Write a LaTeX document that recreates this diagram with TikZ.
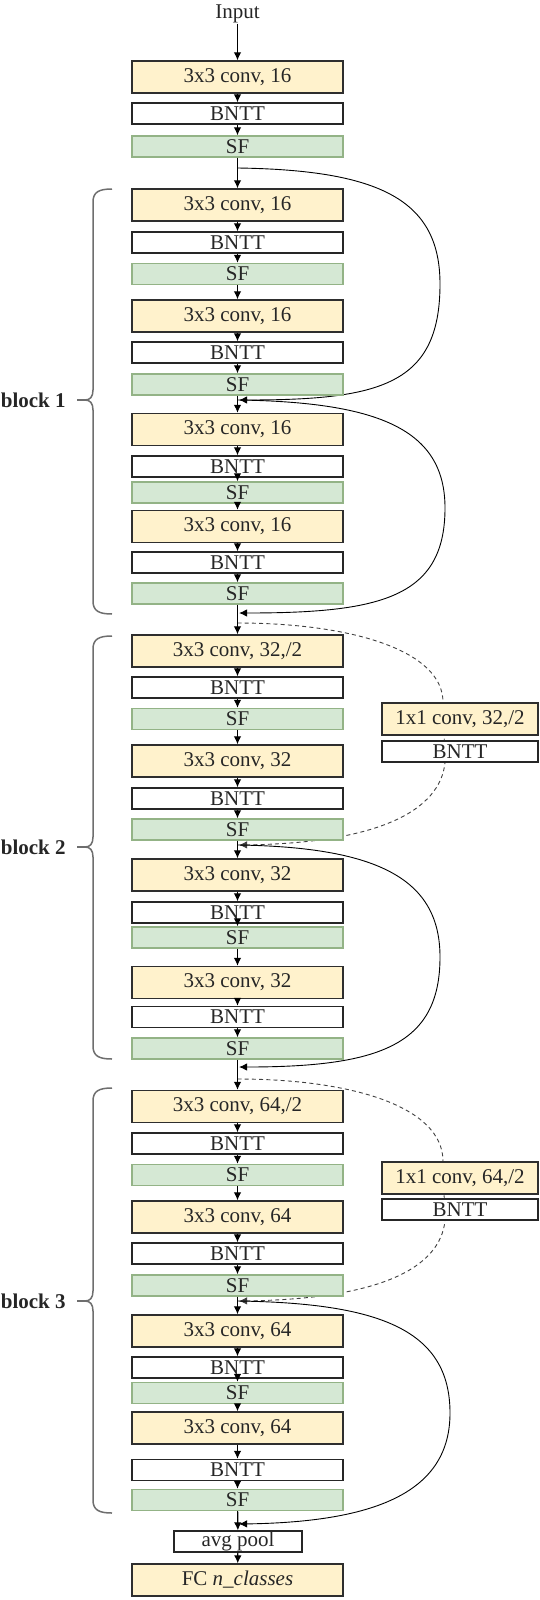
\documentclass[tikz,border=0pt]{standalone}
\usepackage{fontspec}
\setmainfont{Liberation Serif}
\usetikzlibrary{arrows.meta}
\pgfdeclarelayer{background}
\pgfsetlayers{background,main}
\definecolor{convfill}{HTML}{FFF2CC}
\definecolor{convdraw}{HTML}{2E2E2E}
\definecolor{sffill}{HTML}{D5E8D4}
\definecolor{sfdraw}{HTML}{93B386}
\definecolor{bracecol}{HTML}{6E6E6E}
\definecolor{dashcol}{HTML}{404040}
\definecolor{txtcol}{HTML}{262626}
\begin{document}
\begin{tikzpicture}[x=0.5pt,y=-0.5pt,
  box/.style={rectangle, inner sep=0pt, minimum width=105.5pt, font=\fontsize{10.5}{12}\selectfont, text=txtcol, line width=0.7pt},
  convbox/.style={box, fill=convfill, draw=convdraw, minimum height=16pt},
  bnttbox/.style={box, fill=white, draw=black!85, minimum height=10.5pt},
  sfbox/.style={box, fill=sffill, draw=sfdraw, minimum height=10.5pt},
  sideconv/.style={convbox, minimum width=78pt},
  sidebntt/.style={bnttbox, minimum width=78pt},
  poolbox/.style={bnttbox, minimum width=64pt},
  arr/.style={-{Latex[length=4pt,width=3.8pt]}, line width=0.6pt},
  skipline/.style={arr, line width=0.45pt},
  dskip/.style={skipline, draw=dashcol, dash pattern=on 2pt off 1.6pt},
  bracestyle/.style={draw=bracecol, line width=0.75pt},
  blocklabel/.style={font=\fontsize{10.5}{12}\selectfont\bfseries, text=txtcol, anchor=east, inner sep=0pt}
]
\useasboundingbox (0,0) rectangle (540,1600);

% input and stem
\node[inner sep=0pt, font=\fontsize{10.5}{12}\selectfont, text=txtcol] (in) at (237.5,14) {Input};
\node[convbox] (c0) at (237.5,77) {3x3 conv, 16};
\node[bnttbox] (n0) at (237.5,113.5) {BNTT};
\node[sfbox]   (s0) at (237.5,146.5) {SF};

% block 1
\node[convbox] (c1) at (237.5,205)   {3x3 conv, 16};
\node[bnttbox] (n1) at (237.5,242.5) {BNTT};
\node[sfbox]   (s1) at (237.5,274)   {SF};
\node[convbox] (c2) at (237.5,316)   {3x3 conv, 16};
\node[bnttbox] (n2) at (237.5,352.5) {BNTT};
\node[sfbox]   (s2) at (237.5,384.5) {SF};
\node[convbox] (c3) at (237.5,429.5) {3x3 conv, 16};
\node[bnttbox] (n3) at (237.5,466.5) {BNTT};
\node[sfbox]   (s3) at (237.5,492.5) {SF};
\node[convbox] (c4) at (237.5,526.5) {3x3 conv, 16};
\node[bnttbox] (n4) at (237.5,562.5) {BNTT};
\node[sfbox]   (s4) at (237.5,593.5) {SF};

% block 2
\node[convbox] (c5) at (237.5,651)   {3x3 conv, 32,/2};
\node[bnttbox] (n5) at (237.5,687.5) {BNTT};
\node[sfbox]   (s5) at (237.5,719)   {SF};
\node[convbox] (c6) at (237.5,761)   {3x3 conv, 32};
\node[bnttbox] (n6) at (237.5,798.5) {BNTT};
\node[sfbox]   (s6) at (237.5,829.5) {SF};
\node[convbox] (c7) at (237.5,875)   {3x3 conv, 32};
\node[bnttbox] (n7) at (237.5,912.5) {BNTT};
\node[sfbox]   (s7) at (237.5,937.5) {SF};
\node[convbox] (c8) at (237.5,982.5) {3x3 conv, 32};
\node[bnttbox] (n8) at (237.5,1017)  {BNTT};
\node[sfbox]   (s8) at (237.5,1048.5){SF};

% block 3
\node[convbox] (c9)  at (237.5,1106.5) {3x3 conv, 64,/2};
\node[bnttbox] (n9)  at (237.5,1143.5) {BNTT};
\node[sfbox]   (s9)  at (237.5,1175)   {SF};
\node[convbox] (c10) at (237.5,1217)   {3x3 conv, 64};
\node[bnttbox] (n10) at (237.5,1253.5) {BNTT};
\node[sfbox]   (s10) at (237.5,1285.5) {SF};
\node[convbox] (c11) at (237.5,1331)   {3x3 conv, 64};
\node[bnttbox] (n11) at (237.5,1367.5) {BNTT};
\node[sfbox]   (s11) at (237.5,1393)   {SF};
\node[convbox] (c12) at (237.5,1428)   {3x3 conv, 64};
\node[bnttbox] (n12) at (237.5,1470)   {BNTT};
\node[sfbox]   (s12) at (237.5,1500)   {SF};

% head
\node[poolbox] (pool) at (238,1541.5) {avg pool};
\node[convbox] (fc) at (237.5,1580) {FC \textit{n\_classes}};

% side (downsampling) branches
\node[sideconv] (sc1) at (460,719)    {1x1 conv, 32,/2};
\node[sidebntt] (sn1) at (460,751.5)  {BNTT};
\node[sideconv] (sc2) at (460,1178)   {1x1 conv, 64,/2};
\node[sidebntt] (sn2) at (460,1209.5) {BNTT};

% merge points
\coordinate (m0) at (237.5,168);
\coordinate (m1) at (237.5,400);
\coordinate (m2) at (237.5,613);
\coordinate (d1) at (237.5,623);
\coordinate (m3) at (237.5,845);
\coordinate (m4) at (237.5,1067);
\coordinate (d2) at (237.5,1079);
\coordinate (m5) at (237.5,1301);
\coordinate (m6) at (237.5,1524);

% main column arrows
\draw[arr] (in) -- (c0);
\draw[arr] (c0) -- (n0);
\draw[arr] (n0) -- (s0);
\draw[arr] (s0) -- (c1);
\foreach \k [evaluate=\k as \nk using int(\k+1)] in {1,...,11} {
  \draw[arr] (c\k) -- (n\k);
  \draw[arr] (n\k) -- (s\k);
  \draw[arr] (s\k) -- (c\nk);
}
\draw[arr] (c12) -- (n12);
\draw[arr] (n12) -- (s12);
\draw[arr] (s12) -- (pool);
\draw[arr] (pool) -- (fc);

% skip connections
\begin{pgfonlayer}{background}
\draw[skipline] (m0) .. controls (380,170) and (440,200) .. (440,284)
  .. controls (440,385) and (380,400) .. ([xshift=0.8pt]m1);
\draw[skipline] (m1) .. controls (380,402) and (445,430) .. (445,508)
  .. controls (445,598) and (380,613) .. ([xshift=0.8pt]m2);
\draw[dskip] (d1) .. controls (350,623) and (443,650) .. ([xshift=-8.5pt]sc1.north)
  -- ([xshift=-7.5pt]sn1.south)
  .. controls (440,810) and (380,843) .. ([xshift=0.8pt]m3);
\draw[skipline] (m3) .. controls (380,847) and (440,880) .. (440,957)
  .. controls (440,1045) and (380,1067) .. ([xshift=0.8pt]m4);
\draw[dskip] (d2) .. controls (350,1079) and (443,1106) .. ([xshift=-8.5pt]sc2.north)
  -- ([xshift=-7.5pt]sn2.south)
  .. controls (440,1268) and (380,1299) .. ([xshift=0.8pt]m5);
\draw[skipline] (m5) .. controls (380,1303) and (450,1330) .. (450,1413)
  .. controls (450,1490) and (380,1522) .. ([xshift=0.8pt]m6);
\end{pgfonlayer}

% braces and block labels
\node[blocklabel] (b1) at (66,400)  {block 1};
\node[blocklabel] (b2) at (66,847)  {block 2};
\node[blocklabel] (b3) at (66,1301) {block 3};
\foreach \lab/\t/\m/\b in {b1/189/400/614, b2/636/847/1059, b3/1088/1301/1513} {
  \draw[bracestyle] (112,\t) .. controls (99,\t) and (93,\t+3) .. (93,\t+13)
    -- (93,\m-10) .. controls (93,\m-3) and (90,\m) .. (85,\m)
    .. controls (90,\m) and (93,\m+3) .. (93,\m+10)
    -- (93,\b-13) .. controls (93,\b-3) and (99,\b) .. (112,\b);
  \draw[bracestyle] ([xshift=5.5pt]\lab.east) -- (85,\m);
}
\end{tikzpicture}
\end{document}
